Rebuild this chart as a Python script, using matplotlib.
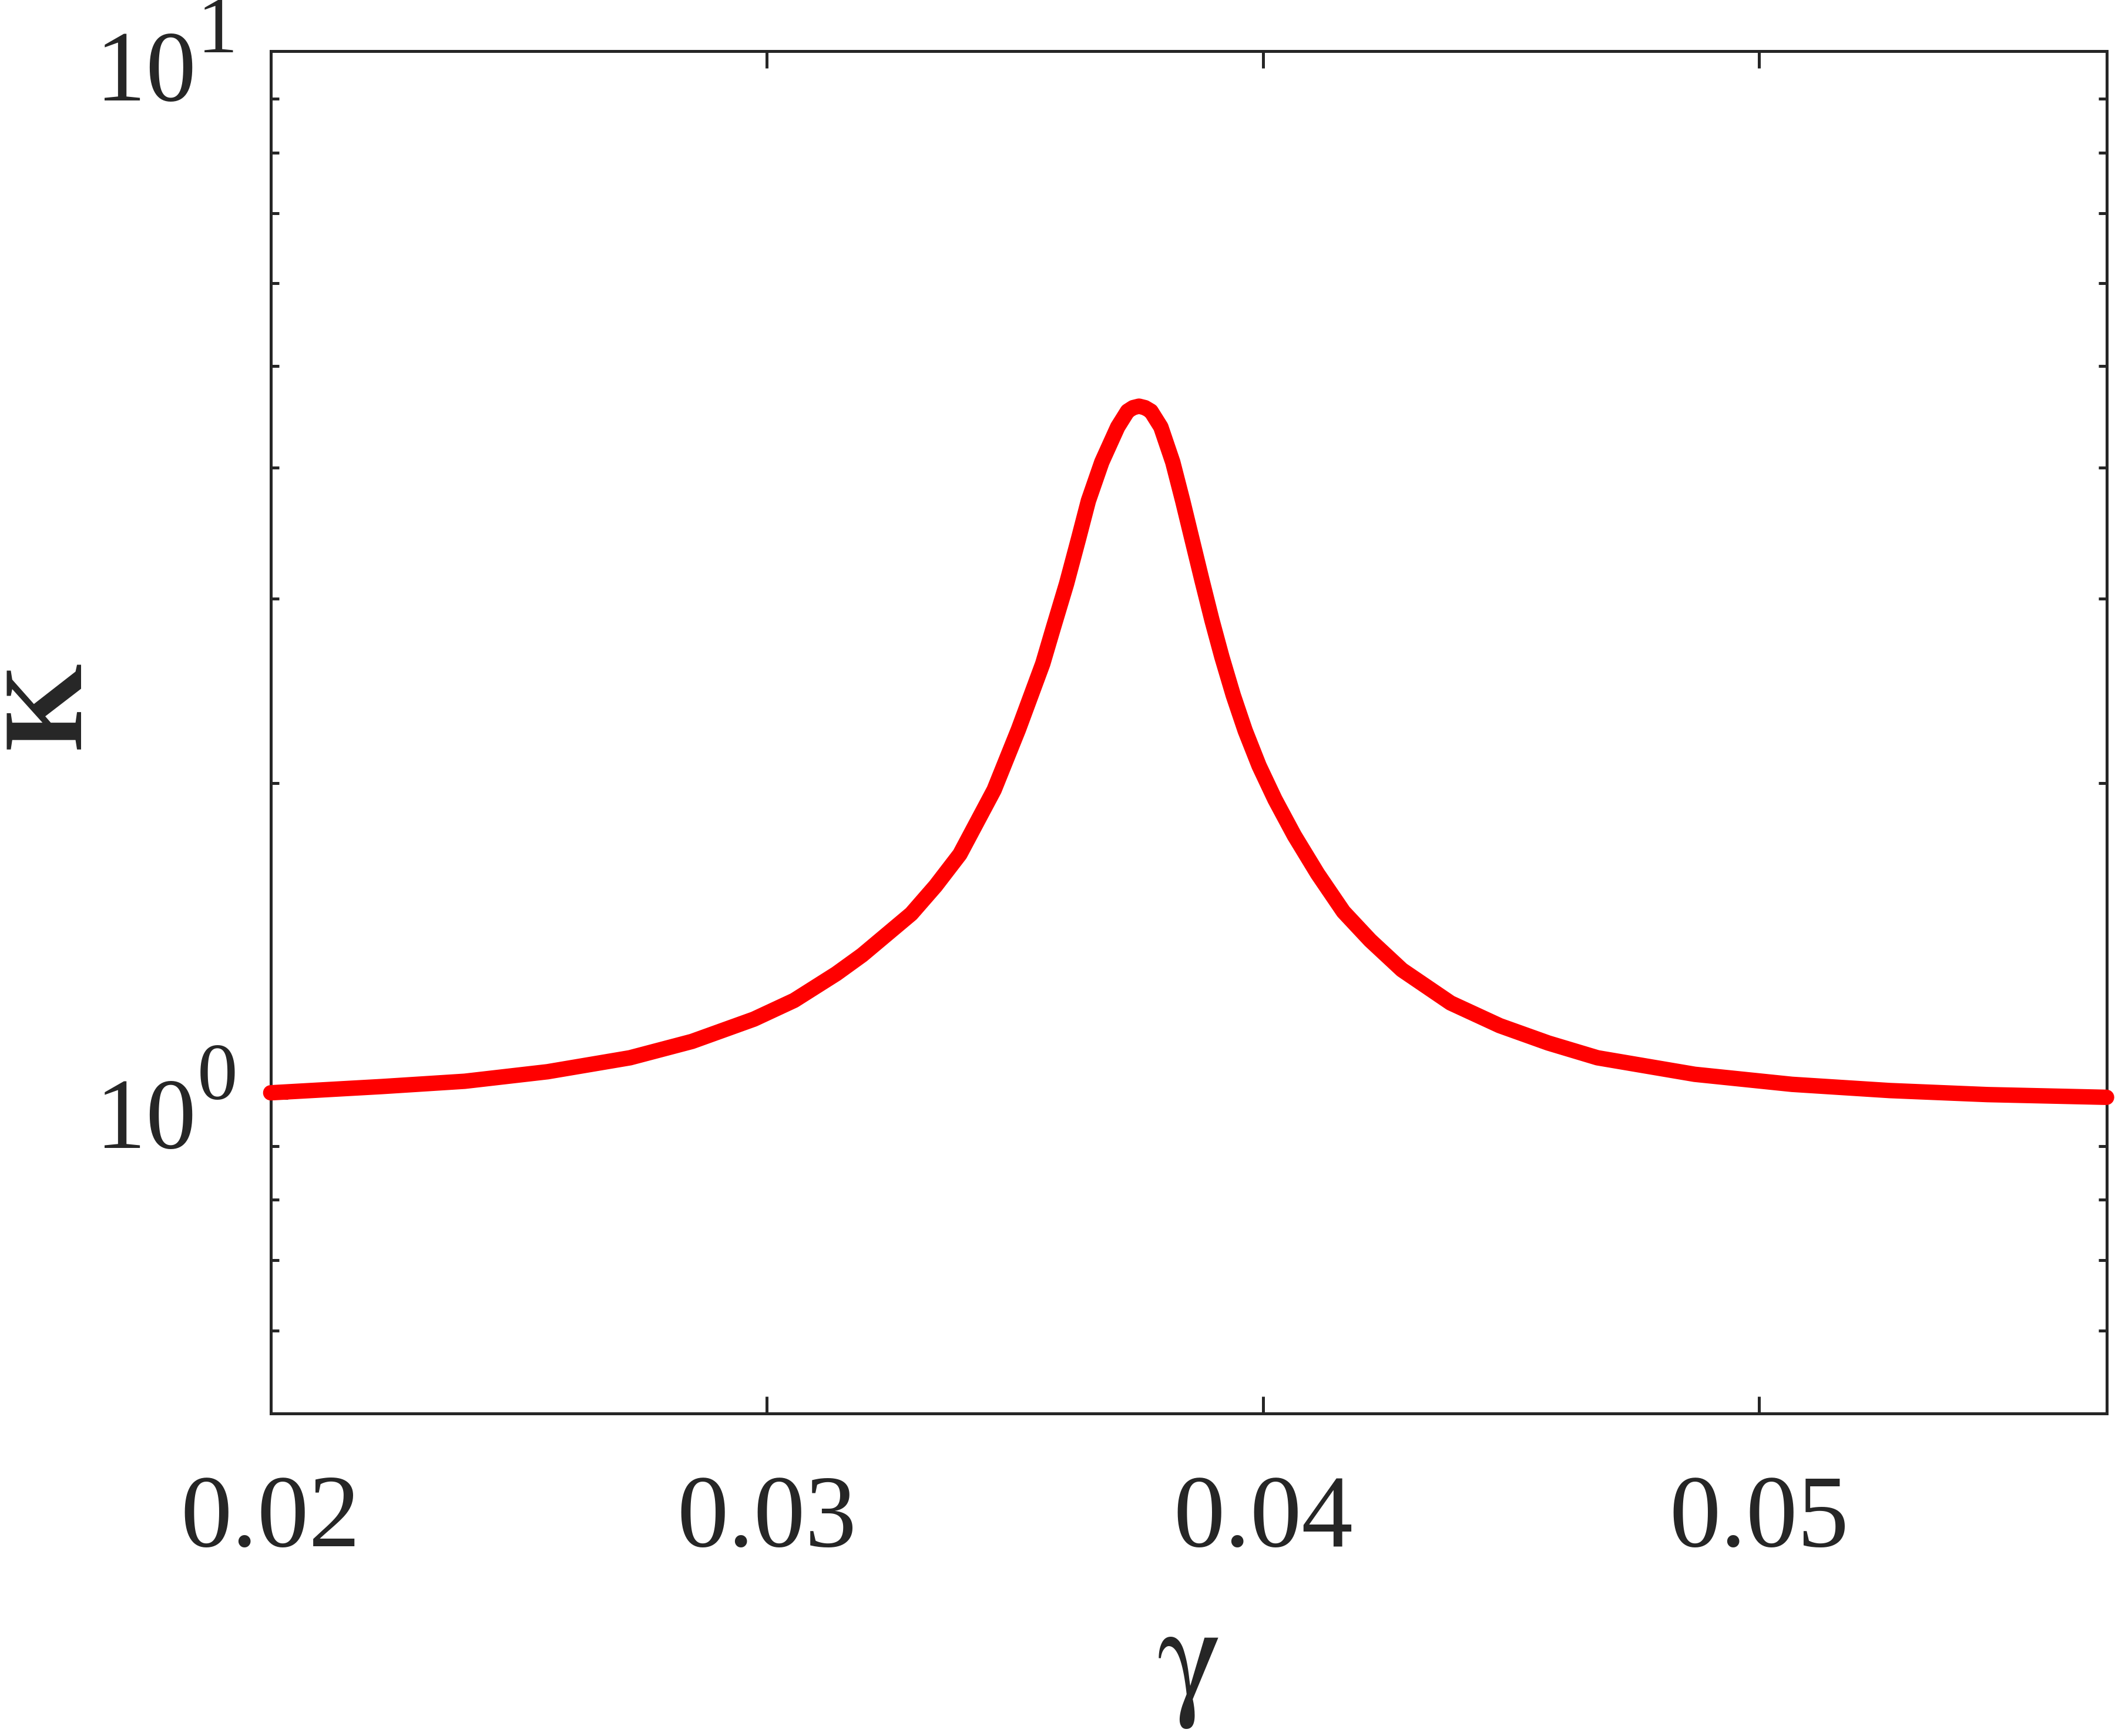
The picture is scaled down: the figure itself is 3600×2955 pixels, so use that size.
import numpy as np
import matplotlib
matplotlib.use('Agg')
import matplotlib.pyplot as plt
from matplotlib import ticker, transforms

plt.rcParams['font.family'] = ['Liberation Serif', 'DejaVu Serif']

INK = '#262626'

# values (gamma, K)
gamma = [0.0200, 0.02224, 0.02391, 0.02558, 0.02724, 0.02849, 0.02974, 0.03055,
         0.0314, 0.03192, 0.03291, 0.0334, 0.03389, 0.03458, 0.03507, 0.03556,
         0.03577, 0.03604, 0.03628, 0.03648, 0.03675, 0.03707, 0.03727, 0.03738,
         0.0375, 0.03762, 0.03774, 0.03794, 0.03818, 0.03838, 0.03855, 0.03877,
         0.03897, 0.03917, 0.0394, 0.03964, 0.03992, 0.04024, 0.04063, 0.0411,
         0.04162, 0.04216, 0.0428, 0.04378, 0.04477, 0.04575, 0.04674, 0.0487,
         0.05066, 0.05263, 0.0546, 0.0570]
K = [1.012, 1.026, 1.038, 1.06, 1.093, 1.133, 1.19, 1.24,
     1.315, 1.37, 1.50, 1.595, 1.71, 1.97, 2.25, 2.60,
     2.81, 3.10, 3.42, 3.72, 4.05, 4.375, 4.53, 4.565,
     4.58, 4.565, 4.53, 4.375, 4.05, 3.72, 3.446, 3.122,
     2.861, 2.639, 2.425, 2.244, 2.077, 1.929, 1.782, 1.638,
     1.507, 1.415, 1.326, 1.233, 1.173, 1.129, 1.093, 1.054,
     1.031, 1.017, 1.008, 1.002]

x_ticks = [0.02, 0.03, 0.04, 0.05]
x_ticklabels = ['0.02', '0.03', '0.04', '0.05']
y_major = [1, 10]
y_exponents = ['0', '1']

fig = plt.figure(figsize=(12, 9.85), dpi=300)
ax = fig.add_axes([0.128, 0.1858, 0.868, 0.7848])

ax.plot(gamma, K, color='#ff0000', linewidth=6.3, solid_capstyle='round',
        solid_joinstyle='round', clip_on=False, zorder=3)

ax.set_yscale('log')
ax.set_xlim(0.02, 0.057)
ax.set_ylim(0.5, 10)

ax.set_xticks(x_ticks)
ax.set_xticklabels(x_ticklabels)
ax.xaxis.set_minor_locator(ticker.NullLocator())
ax.yaxis.set_major_locator(ticker.FixedLocator(y_major))
ax.yaxis.set_major_formatter(ticker.NullFormatter())
ax.yaxis.set_minor_locator(ticker.LogLocator(base=10, subs=np.arange(2, 10)))
ax.yaxis.set_minor_formatter(ticker.NullFormatter())

for s in ax.spines.values():
    s.set_color(INK)
    s.set_linewidth(1.2)

ax.tick_params(axis='both', which='major', direction='in', length=7, width=1.2,
               color=INK, labelcolor=INK, labelsize=42, top=True, right=True)
ax.tick_params(axis='x', which='major', pad=25)
ax.tick_params(axis='y', which='minor', direction='in', length=3.4, width=1.2,
               color=INK, left=True, right=True)

# y tick labels as base + raised exponent
ytrans = ax.get_yaxis_transform()
base_tr = transforms.offset_copy(ytrans, fig=fig, y=-20.2, units='points')
sup_tr = transforms.offset_copy(ytrans, fig=fig, y=-0.5, units='points')
for yv, ex in zip(y_major, y_exponents):
    ax.text(-0.0405, yv, '10', transform=base_tr, ha='right', va='baseline',
            fontsize=41, color=INK, clip_on=False)
    ax.text(-0.0400, yv, ex, transform=sup_tr, ha='left', va='baseline',
            fontsize=33, color=INK, clip_on=False)

ax.set_ylabel('K', fontsize=46, fontweight='bold', color=INK)
ax.yaxis.set_label_coords(-0.091, 0.52)
fig.text(0.5625, 0.021, 'γ', fontsize=56, family=['STIXGeneral', 'Liberation Serif'],
         color=INK, ha='center', va='baseline')

fig.savefig('out.png', dpi=300, facecolor='white')
